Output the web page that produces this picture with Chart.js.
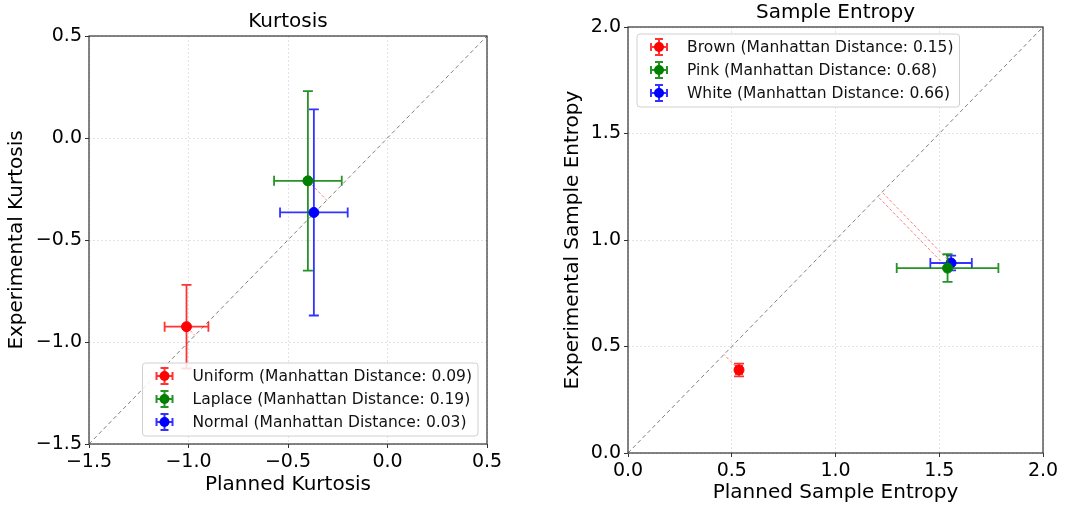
<!DOCTYPE html>
<html>
<head>
<meta charset="utf-8">
<script src="https://cdn.jsdelivr.net/npm/chart.js@4.4.1/dist/chart.umd.min.js"></script>
<style>
  body { margin: 0; background: #fff; width: 1079px; height: 508px; overflow: hidden; }
  .box { position: absolute; top: 0; height: 508px; }
</style>
</head>
<body>
<div class="box" style="left:0;width:540px"><canvas id="kurt"></canvas></div>
<div class="box" style="left:540px;width:539px"><canvas id="ent"></canvas></div>
<script>
// Kurtosis panel
const kurtNames = ['Uniform', 'Laplace', 'Normal'];
const kurtDist = ['0.09', '0.19', '0.03'];
const kurtX = [-1.01, -0.40, -0.37];
const kurtY = [-0.925, -0.21, -0.365];
const kurtXErr = [0.11, 0.17, 0.17];
const kurtYErr = [0.205, 0.44, 0.505];
const kurtTicks = [-1.5, -1.0, -0.5, 0.0, 0.5];

// Sample entropy panel
const entNames = ['Brown', 'Pink', 'White'];
const entDist = ['0.15', '0.68', '0.66'];
const entX = [0.535, 1.54, 1.557];
const entY = [0.39, 0.868, 0.892];
const entXErr = [0.015, 0.245, 0.10];
const entYErr = [0.03, 0.065, 0.035];
const entTicks = [0.0, 0.5, 1.0, 1.5, 2.0];

const colors = ['#ff0000', '#008000', '#0000ff'];
const barColors = ['rgba(255,0,0,0.8)', 'rgba(0,128,0,0.85)', 'rgba(0,0,255,0.8)'];

Chart.defaults.font.family = 'DejaVu Sans';
Chart.defaults.color = '#000';

function fmt(v) {
    return (v < 0 ? '\u2212' : '') + Math.abs(v).toFixed(1);
}

// error bars drawn just under each point
const errorBars = {
    id: 'errorBars',
    beforeDatasetDraw(chart, args) {
        const ds = chart.data.datasets[args.index];
        if (ds.xErr === undefined) return;
        const ctx = chart.ctx;
        const sx = chart.scales.x, sy = chart.scales.y;
        const p = ds.data[0];
        const x0 = sx.getPixelForValue(p.x - ds.xErr), x1 = sx.getPixelForValue(p.x + ds.xErr);
        const y0 = sy.getPixelForValue(p.y - ds.yErr), y1 = sy.getPixelForValue(p.y + ds.yErr);
        const cx = sx.getPixelForValue(p.x), cy = sy.getPixelForValue(p.y);
        const cap = 5;
        ctx.save();
        ctx.strokeStyle = ds.barColor;
        ctx.lineWidth = 1.8;
        ctx.beginPath();
        ctx.moveTo(x0, cy); ctx.lineTo(x1, cy);
        ctx.moveTo(cx, y0); ctx.lineTo(cx, y1);
        ctx.moveTo(x0, cy - cap); ctx.lineTo(x0, cy + cap);
        ctx.moveTo(x1, cy - cap); ctx.lineTo(x1, cy + cap);
        ctx.moveTo(cx - cap, y0); ctx.lineTo(cx + cap, y0);
        ctx.moveTo(cx - cap, y1); ctx.lineTo(cx + cap, y1);
        ctx.stroke();
        ctx.restore();
    }
};

// axes frame, title over the plot, legend box inside the plot
const frameLegend = {
    id: 'frameLegend',
    afterDraw(chart, args, opts) {
        const ctx = chart.ctx;
        const a = chart.chartArea;
        ctx.save();
        ctx.strokeStyle = '#333';
        ctx.lineWidth = 1.2;
        ctx.strokeRect(a.left, a.top, a.right - a.left, a.bottom - a.top);

        ctx.fillStyle = '#000';
        ctx.font = '20px "DejaVu Sans"';
        ctx.textAlign = 'center';
        ctx.textBaseline = 'middle';
        ctx.fillText(opts.title, (a.left + a.right) / 2, opts.titleY);

        ctx.font = '15.5px "DejaVu Sans"';
        const labels = opts.labels;
        let tw = 0;
        labels.forEach(t => { tw = Math.max(tw, ctx.measureText(t).width); });
        const w = 50 + tw + 6, h = 73;
        let bx, by;
        if (opts.corner === 'lower right') {
            bx = a.right - 9 - w; by = a.bottom - 8 - h;
        } else {
            bx = a.left + 9; by = a.top + 7;
        }
        ctx.fillStyle = 'rgba(255,255,255,0.85)';
        ctx.strokeStyle = '#d0d0d0';
        ctx.lineWidth = 1;
        ctx.beginPath();
        ctx.roundRect(bx, by, w, h, 3);
        ctx.fill();
        ctx.stroke();
        labels.forEach((t, i) => {
            const cy = by + 13 + i * 23;
            const cx = bx + 22;
            ctx.strokeStyle = barColors[i];
            ctx.lineWidth = 2;
            ctx.beginPath();
            ctx.moveTo(cx - 8, cy); ctx.lineTo(cx + 8, cy);
            ctx.moveTo(cx, cy - 8); ctx.lineTo(cx, cy + 8);
            ctx.moveTo(cx - 8, cy - 4); ctx.lineTo(cx - 8, cy + 4);
            ctx.moveTo(cx + 8, cy - 4); ctx.lineTo(cx + 8, cy + 4);
            ctx.moveTo(cx - 4, cy - 8); ctx.lineTo(cx + 4, cy - 8);
            ctx.moveTo(cx - 4, cy + 8); ctx.lineTo(cx + 4, cy + 8);
            ctx.stroke();
            ctx.fillStyle = colors[i];
            ctx.beginPath();
            ctx.arc(cx, cy, 5, 0, Math.PI * 2);
            ctx.fill();
            ctx.fillStyle = '#111';
            ctx.textBaseline = 'middle';
            ctx.textAlign = 'left';
            ctx.fillText(t, bx + 50, cy + 1);
        });
        ctx.restore();
    }
};

function makeChart(id, cfg) {
    const datasets = [];
    cfg.names.forEach((n, i) => {
        datasets.push({
            type: 'scatter',
            label: n,
            data: [{x: cfg.xs[i], y: cfg.ys[i]}],
            xErr: cfg.xErr[i],
            yErr: cfg.yErr[i],
            barColor: barColors[i],
            backgroundColor: colors[i],
            borderColor: colors[i],
            pointRadius: 5,
            pointHoverRadius: 5
        });
    });
    // distance to the identity line
    cfg.names.forEach((n, i) => {
        const m = (cfg.xs[i] + cfg.ys[i]) / 2;
        datasets.push({
            type: 'line',
            data: [{x: cfg.xs[i], y: cfg.ys[i]}, {x: m, y: m}],
            borderColor: 'rgba(255,0,0,0.5)',
            borderWidth: 1,
            borderDash: [3, 2],
            pointRadius: 0
        });
    });
    const lo = cfg.ticks[0], hi = cfg.ticks[cfg.ticks.length - 1];
    datasets.push({
        type: 'line',
        data: [{x: lo, y: lo}, {x: hi, y: hi}],
        borderColor: 'rgba(0,0,0,0.5)',
        borderWidth: 1,
        borderDash: [4, 3],
        pointRadius: 0
    });

    const axis = (title, which) => ({
        type: 'linear',
        min: lo,
        max: hi,
        afterBuildTicks: s => { s.ticks = cfg.ticks.map(v => ({value: v})); },
        afterFit: s => {
            if (which === 'x') s.height = cfg.xh; else s.width = cfg.yw;
        },
        ticks: {
            callback: v => fmt(v),
            font: {size: 19},
            color: '#000',
            padding: 3,
            maxRotation: 0,
            autoSkip: false
        },
        grid: {
            color: '#dcdcdc',
            lineWidth: 0.8,
            tickColor: '#333',
            tickLength: 4,
            tickWidth: 1
        },
        border: {display: false, dash: [2, 2]},
        title: {display: true, text: title, font: {size: 20}, color: '#000', padding: 0}
    });

    return new Chart(document.getElementById(id), {
        data: {datasets},
        options: {
            responsive: true,
            maintainAspectRatio: false,
            animation: false,
            layout: {padding: cfg.pad},
            scales: {
                x: axis(cfg.xTitle, 'x'),
                y: axis(cfg.yTitle, 'y')
            },
            plugins: {
                legend: {display: false},
                tooltip: {enabled: false},
                title: {display: false},
                frameLegend: {
                    title: cfg.title,
                    titleY: cfg.titleY,
                    corner: cfg.corner,
                    labels: cfg.names.map((n, i) => n + ' (Manhattan Distance: ' + cfg.dist[i] + ')')
                }
            }
        },
        plugins: [errorBars, frameLegend]
    });
}

makeChart('kurt', {
    names: kurtNames, dist: kurtDist, xs: kurtX, ys: kurtY,
    xErr: kurtXErr, yErr: kurtYErr, ticks: kurtTicks,
    title: 'Kurtosis', xTitle: 'Planned Kurtosis', yTitle: 'Experimental Kurtosis',
    pad: {left: 5, right: 53, top: 36, bottom: 11},
    titleY: 22,
    xh: 53, yw: 84,
    corner: 'lower right'
});

makeChart('ent', {
    names: entNames, dist: entDist, xs: entX, ys: entY,
    xErr: entXErr, yErr: entYErr, ticks: entTicks,
    title: 'Sample Entropy', xTitle: 'Planned Sample Entropy', yTitle: 'Experimental Sample Entropy',
    pad: {left: 21, right: 36, top: 27, bottom: 3},
    titleY: 13,
    xh: 52, yw: 67,
    corner: 'upper left'
});
</script>
</body>
</html>
